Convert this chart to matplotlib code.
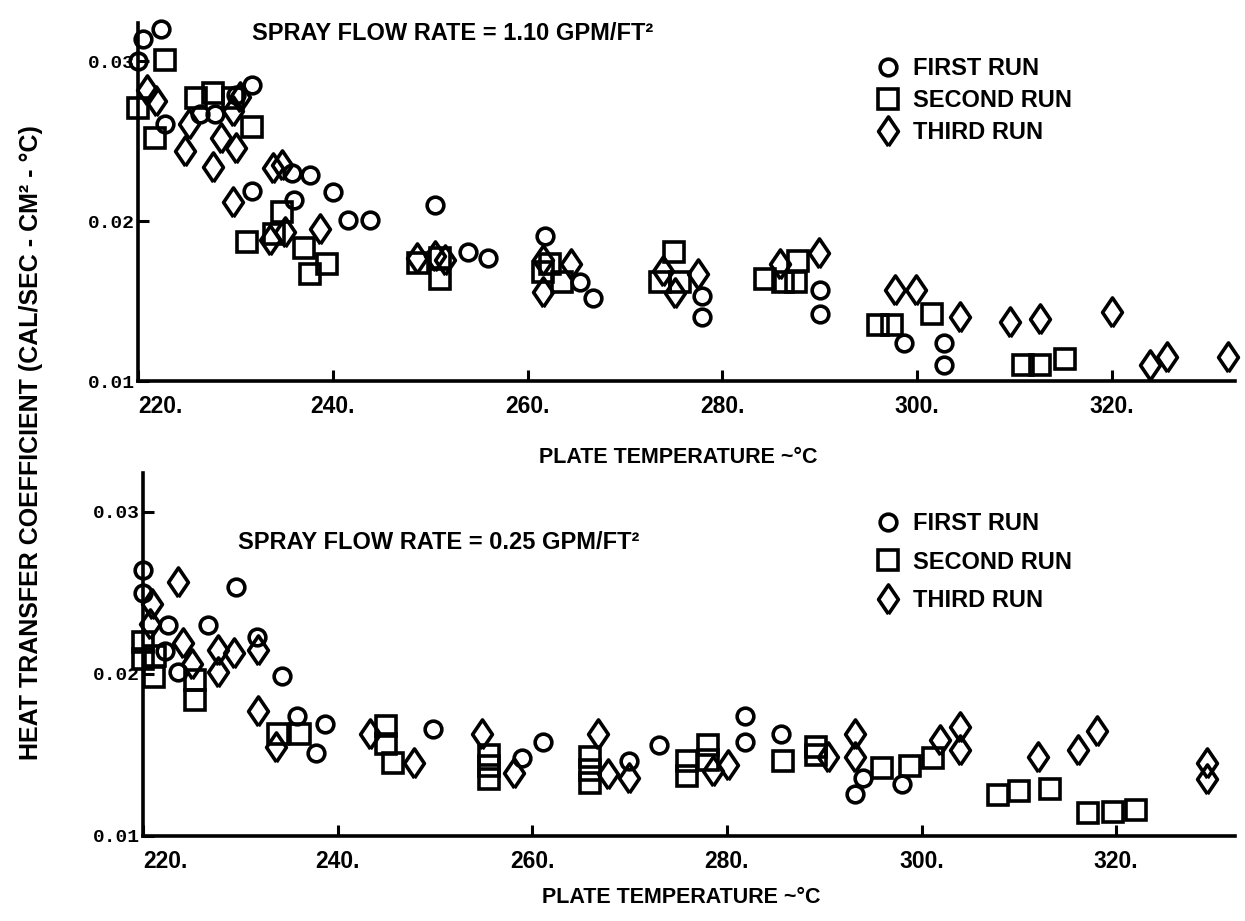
import matplotlib
matplotlib.use('Agg')
import matplotlib.pyplot as plt

# top panel: spray flow rate 1.10 gpm/ft2
top_first_t = [222.4, 220.5, 220.0, 231.7, 222.8, 226.4, 227.9, 230.1, 237.7, 235.8, 231.7, 240.0, 236.0, 241.6,
               243.8, 250.5, 253.9, 255.9, 261.8, 265.4, 266.7, 277.9, 277.9, 290.0, 290.0, 298.6, 302.7, 302.7]
top_first_h = [0.0320, 0.0314, 0.0300, 0.0285, 0.0261, 0.0267, 0.0267, 0.0279, 0.0229, 0.0230, 0.0219, 0.0218, 0.0213,
               0.0201, 0.0201, 0.0210, 0.0181, 0.0177, 0.0191, 0.0162, 0.0152, 0.0153, 0.0140, 0.0157, 0.0142, 0.0124,
               0.0124, 0.0110]
top_second_t = [222.8, 220.0, 221.7, 226.0, 227.7, 229.8, 231.7, 231.2, 234.8, 234.0, 237.0, 237.7, 239.4, 248.8,
                251.0, 251.0, 261.6, 263.5, 262.3, 275.0, 273.6, 275.6, 284.4, 286.2, 287.8, 287.6, 296.0, 297.4,
                301.5, 310.9, 312.6, 315.2]
top_second_h = [0.0301, 0.0271, 0.0252, 0.0277, 0.0280, 0.0277, 0.0259, 0.0187, 0.0206, 0.0192, 0.0183, 0.0167,
                0.0173, 0.0174, 0.0164, 0.0177, 0.0168, 0.0162, 0.0173, 0.0181, 0.0162, 0.0162, 0.0164, 0.0162,
                0.0175, 0.0162, 0.0135, 0.0135, 0.0142, 0.0110, 0.0110, 0.0114]
top_third_t = [220.9, 221.9, 224.8, 225.2, 227.7, 228.5, 230.1, 230.5, 229.8, 229.8, 233.9, 234.8, 233.6, 235.1,
               238.7, 248.6, 250.5, 251.5, 261.6, 264.5, 261.6, 275.1, 277.5, 273.9, 285.9, 289.9, 297.7, 299.9,
               304.4, 309.5, 312.6, 320.0, 323.9, 325.6, 331.9]
top_third_h = [0.0282, 0.0275, 0.0244, 0.0261, 0.0234, 0.0252, 0.0246, 0.0278, 0.0269, 0.0212, 0.0233, 0.0235,
               0.0188, 0.0193, 0.0195, 0.0177, 0.0178, 0.0176, 0.0156, 0.0173, 0.0176, 0.0155, 0.0167, 0.0169,
               0.0173, 0.0180, 0.0157, 0.0157, 0.0140, 0.0137, 0.0139, 0.0143, 0.0110, 0.0115, 0.0115]

# bottom panel: spray flow rate 0.25 gpm/ft2
bot_first_t = [220.0, 220.0, 222.6, 223.6, 222.3, 226.7, 229.6, 231.7, 234.3, 235.8, 238.7, 237.8, 249.8, 258.9,
               261.1, 269.9, 273.0, 281.9, 281.9, 285.6, 294.0, 293.2, 298.0]
bot_first_h = [0.0264, 0.0250, 0.0230, 0.0201, 0.0214, 0.0230, 0.0254, 0.0223, 0.0199, 0.0174, 0.0169, 0.0151,
               0.0166, 0.0148, 0.0158, 0.0146, 0.0156, 0.0174, 0.0158, 0.0163, 0.0136, 0.0126, 0.0132]
bot_second_t = [220.0, 220.0, 221.1, 221.2, 225.3, 225.3, 233.9, 236.1, 245.0, 245.0, 245.7, 255.5, 255.5, 255.5,
                265.9, 265.9, 265.9, 275.9, 275.9, 278.1, 278.1, 285.8, 289.2, 289.2, 295.9, 298.8, 301.2, 307.9,
                310.0, 313.2, 317.1, 319.7, 322.0]
bot_second_h = [0.0220, 0.0209, 0.0198, 0.0211, 0.0196, 0.0184, 0.0163, 0.0163, 0.0168, 0.0157, 0.0145, 0.0150,
                0.0143, 0.0135, 0.0149, 0.0141, 0.0133, 0.0146, 0.0137, 0.0156, 0.0147, 0.0146, 0.0155, 0.0150,
                0.0142, 0.0143, 0.0148, 0.0125, 0.0128, 0.0129, 0.0114, 0.0115, 0.0116]
bot_third_t = [223.6, 220.9, 220.7, 224.1, 225.0, 227.7, 227.7, 229.3, 231.8, 231.8, 233.7, 243.3, 247.8, 254.8,
               258.1, 266.8, 267.8, 269.9, 278.6, 280.1, 290.4, 293.2, 293.2, 301.9, 304.0, 304.0, 312.0, 316.1,
               318.0, 329.3, 329.3]
bot_third_h = [0.0257, 0.0243, 0.0231, 0.0219, 0.0206, 0.0215, 0.0201, 0.0213, 0.0215, 0.0177, 0.0155, 0.0163,
               0.0145, 0.0163, 0.0139, 0.0163, 0.0138, 0.0136, 0.0140, 0.0144, 0.0149, 0.0163, 0.0149, 0.0159,
               0.0167, 0.0153, 0.0149, 0.0153, 0.0165, 0.0145, 0.0135]

x_ticks = [220, 240, 260, 280, 300, 320]
x_ticklabels = ['220.', '240.', '260.', '280.', '300.', '320.']
y_ticks = [0.01, 0.02, 0.03]
y_ticklabels = ['0.01', '0.02', '0.03']
run_labels = ['FIRST RUN', 'SECOND RUN', 'THIRD RUN']

sans = ['Liberation Sans', 'DejaVu Sans']
mono = ['Liberation Mono', 'DejaVu Sans Mono']

# diamond a bit wider than matplotlib's 'd'
diamond = [(0, -1), (0.68, 0), (0, 1), (-0.68, 0), (0, -1)]

fig = plt.figure(figsize=(12.45, 9.21), dpi=100)
ax1 = fig.add_axes([0.1108, 0.5863, 0.881, 0.3887])
ax2 = fig.add_axes([0.1149, 0.0923, 0.877, 0.394])

marker_kw = dict(linestyle='none', markerfacecolor='none', markeredgecolor='black', markeredgewidth=2.6, clip_on=False)


def draw_panel(ax, series, xmax, rate_text, text_xy, leg_xy, label_gap):
    markers = ['o', 's', diamond]
    sizes = [12, 14, 21]
    for (t, h), m, s, lab in zip(series, markers, sizes, run_labels):
        ax.plot(t, h, marker=m, markersize=s, label=lab, **marker_kw)
    ax.set_xlim(220, xmax)
    ax.set_ylim(0.01, 0.0324)
    for side in ['top', 'right']:
        ax.spines[side].set_visible(False)
    for side in ['left', 'bottom']:
        ax.spines[side].set_linewidth(2.6)
    ax.set_xticks(x_ticks)
    ax.set_xticklabels(x_ticklabels, fontfamily=sans, fontweight='bold', fontsize=16.5)
    ax.get_xticklabels()[0].set_horizontalalignment('left')
    ax.set_yticks(y_ticks)
    ax.set_yticklabels(y_ticklabels, fontfamily=mono, fontweight='bold', fontsize=14)
    ax.tick_params(direction='in', length=8, width=2.2)
    ax.tick_params(axis='x', pad=10)
    ax.tick_params(axis='y', pad=2)
    ax.text(text_xy[0], text_xy[1], rate_text, transform=ax.transAxes, fontfamily=sans,
            fontweight='bold', fontsize=17, va='center')
    ax.legend(loc='upper left', bbox_to_anchor=leg_xy, frameon=False, borderpad=0,
              borderaxespad=0, handlelength=0.8, handletextpad=0.66, labelspacing=label_gap,
              prop={'family': sans, 'weight': 'bold', 'size': 17})


draw_panel(ax1, [(top_first_t, top_first_h), (top_second_t, top_second_h), (top_third_t, top_third_h)],
           332.6, 'SPRAY FLOW RATE = 1.10 GPM/FT²', (0.104, 0.972), (0.675, 0.905), 0.39)
draw_panel(ax2, [(bot_first_t, bot_first_h), (bot_second_t, bot_second_h), (bot_third_t, bot_third_h)],
           332.2, 'SPRAY FLOW RATE = 0.25 GPM/FT²', (0.087, 0.81), (0.674, 0.893), 0.66)

fig.text(0.545, 0.503, 'PLATE TEMPERATURE ~°C', fontfamily=sans, fontweight='bold', fontsize=15.5,
         ha='center', va='center')
fig.text(0.547, 0.026, 'PLATE TEMPERATURE ~°C', fontfamily=sans, fontweight='bold', fontsize=15.5,
         ha='center', va='center')
fig.text(0.025, 0.52, 'HEAT TRANSFER COEFFICIENT (CAL/SEC - CM² - °C)', fontfamily=sans, fontweight='bold',
         fontsize=18, rotation=90, ha='center', va='center')

fig.savefig('out.png', dpi=100)
